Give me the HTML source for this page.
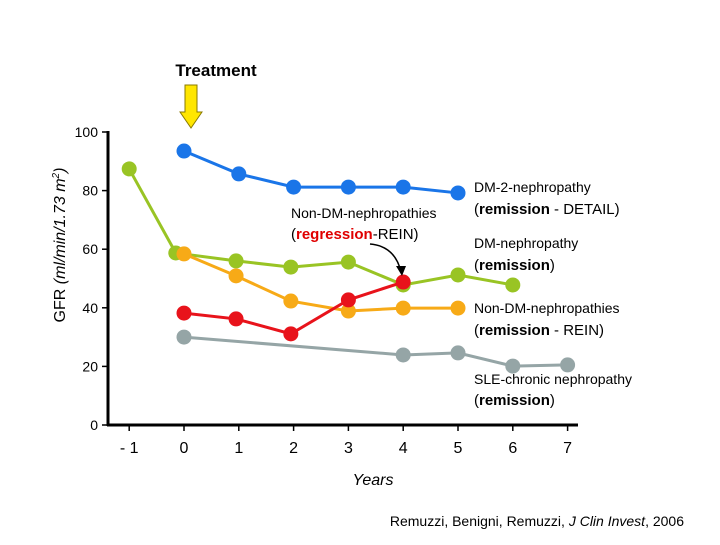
<!DOCTYPE html>
<html><head><meta charset="utf-8"><style>
body{margin:0;background:#fff;}
svg{font-family:"Liberation Sans",sans-serif;}
</style></head><body>
<svg width="720" height="540" id="c">
<text x="216" y="76" text-anchor="middle" font-size="17" font-weight="bold">Treatment</text>
<polygon points="185,85 197,85 197,112 202,112 191,128 180,112 185,112" fill="#ffe600" stroke="#8a7a00" stroke-width="1"/>
<g id="axes"></g>
<g id="series"></g>
<text x="373" y="485" text-anchor="middle" font-size="16" font-style="italic">Years</text>
<text transform="translate(65,245) rotate(-90)" text-anchor="middle" font-size="16">GFR <tspan font-style="italic">(ml/min/1.73 m</tspan><tspan font-style="italic" font-size="10" dy="-6">2</tspan><tspan font-style="italic" dy="6">)</tspan></text>
<g font-size="14">
<text x="474" y="192">DM-2-nephropathy</text>
<text x="474" y="214" font-size="15">(<tspan font-weight="bold">remission</tspan> - DETAIL)</text>
<text x="291" y="218">Non-DM-nephropathies</text>
<text x="291" y="239" font-size="15">(<tspan font-weight="bold" fill="#e00000">regression</tspan>-REIN)</text>
<text x="474" y="248">DM-nephropathy</text>
<text x="474" y="270" font-size="15">(<tspan font-weight="bold">remission</tspan>)</text>
<text x="474" y="313">Non-DM-nephropathies</text>
<text x="474" y="335" font-size="15">(<tspan font-weight="bold">remission</tspan> - REIN)</text>
<text x="474" y="384">SLE-chronic nephropathy</text>
<text x="474" y="405" font-size="15">(<tspan font-weight="bold">remission</tspan>)</text>
</g>
<path d="M370,244 Q395,246 401,272" fill="none" stroke="#000" stroke-width="1.5"/>
<polygon points="396,266 406,266 402,276" fill="#000"/>
<text x="684" y="526" text-anchor="end" font-size="14">Remuzzi, Benigni, Remuzzi, <tspan font-style="italic">J Clin Invest</tspan>, 2006</text>
</svg>
<script>
const xTicks=[-1,0,1,2,3,4,5,6,7];
const yTicks=[0,20,40,60,80,100];
const blueX=[0,1,2,3,4,5];
const blueY=[93.5,85.7,81.2,81.2,81.2,79.2];
const greenX=[-1,-0.15,0.95,1.95,3,4,5,6];
const greenY=[87.4,58.7,56,53.9,55.6,47.8,51.2,47.8];
const orangeX=[0,0.95,1.95,3,4,5];
const orangeY=[58.4,50.9,42.3,38.9,39.9,39.9];
const redX=[0,0.95,1.95,3,4];
const redY=[38.2,36.2,31.1,42.7,48.8];
const grayX=[0,4,5,6,7];
const grayY=[30,23.9,24.6,20.1,20.5];
const NS='http://www.w3.org/2000/svg';
const sx=v=>184+v*54.8, sy=v=>425-v*2.93;
function mk(t,a,p){const e=document.createElementNS(NS,t);for(const k in a)e.setAttribute(k,a[k]);p.appendChild(e);return e;}
const ax=document.getElementById('axes');
let l=mk('line',{x1:108,y1:131,x2:108,y2:426,stroke:'#000','stroke-width':3},ax);


l=mk('line',{x1:107,y1:425,x2:578,y2:425,stroke:'#000','stroke-width':3},ax);


yTicks.forEach(v=>{const y=sy(v);
 mk('line',{x1:102,y1:y,x2:108,y2:y,stroke:'#000','stroke-width':1.5},ax);
 const t=mk('text',{x:98,y:y+5,'text-anchor':'end','font-size':14},ax);t.textContent=v;
 
 });
xTicks.forEach(v=>{const x=sx(v);
 mk('line',{x1:x,y1:425,x2:x,y2:431,stroke:'#000','stroke-width':1.5},ax);
 const t=mk('text',{x:x,y:453,'text-anchor':'middle','font-size':16},ax);t.textContent=v<0?'- '+Math.abs(v):v;
 
 });
const sg=document.getElementById('series');
function series(X,Y,c,name){const g=mk('g',{},sg);
 
 
 mk('polyline',{points:X.map((x,i)=>sx(x)+','+sy(Y[i])).join(' '),fill:'none',stroke:c,'stroke-width':3},g);
 X.forEach((x,i)=>{const p=mk('circle',{cx:sx(x),cy:sy(Y[i]),r:7.5,fill:c},g);
 
 });}
series(grayX,grayY,'#95a5a6','series-sle');
series(blueX,blueY,'#1a75e8','series-dm2');
series(greenX,greenY,'#99c424','series-dm');
series(orangeX,orangeY,'#f7aa17','series-nondm-remission');
series(redX,redY,'#e8131b','series-nondm-regression');
</script>
</body></html>
